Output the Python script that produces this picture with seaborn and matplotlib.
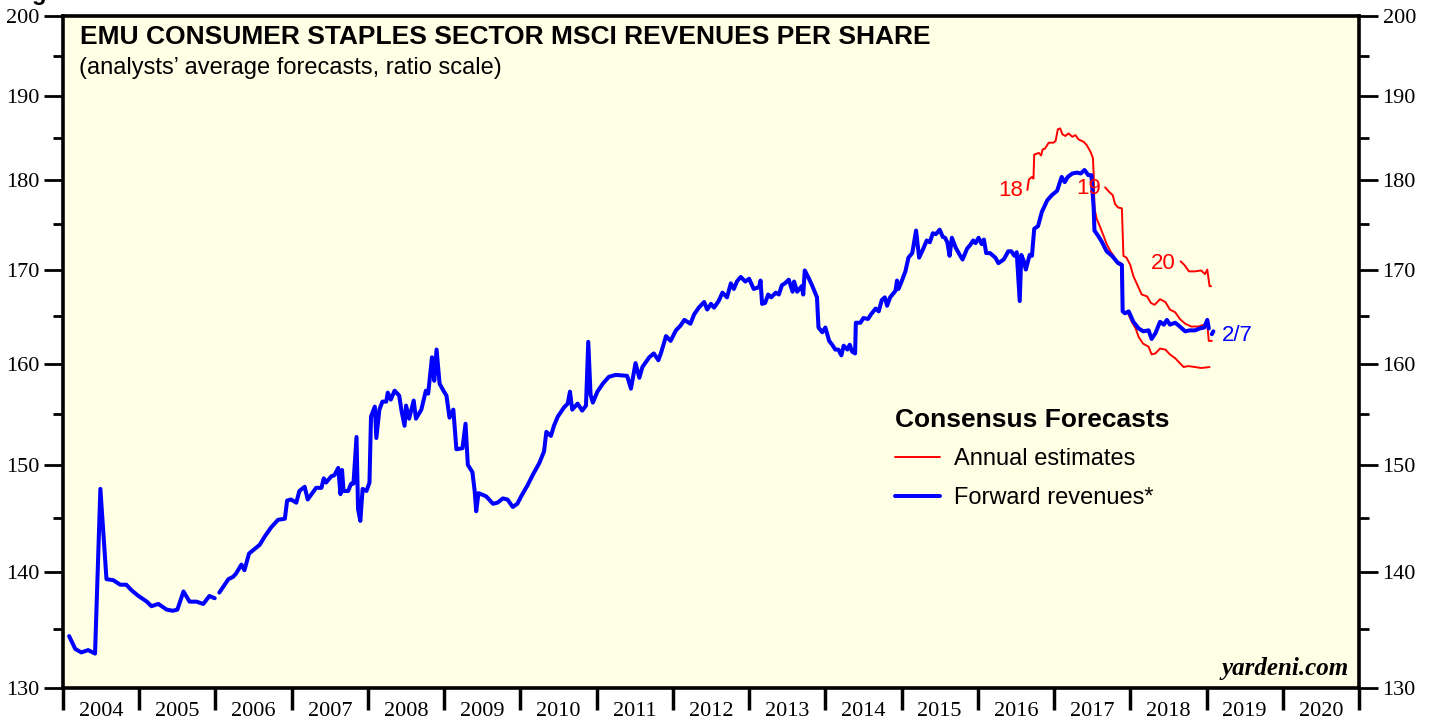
import numpy as np
import pandas as pd
import seaborn as sns
import matplotlib.pyplot as plt
from matplotlib.lines import Line2D
from matplotlib.ticker import FixedLocator, NullFormatter


sns.set_theme(style="white")
plt.rcParams['font.family'] = ['Liberation Sans', 'DejaVu Sans']
plt.rcParams['text.color'] = 'black'
plt.rcParams['xtick.color'] = 'black'
plt.rcParams['ytick.color'] = 'black'

# forward revenues per share (weekly-ish readings), NaN = break in the line
fwd_year = [2004.08, 2004.16, 2004.24, 2004.33, 2004.42, 2004.49, 2004.57, 2004.66, 2004.75, 2004.83,
            2004.90, 2004.99, 2005.10, 2005.16, 2005.25, 2005.36, 2005.44, 2005.50, 2005.58, 2005.66,
            2005.75, 2005.84, 2005.92, 2005.99, np.nan,
            2006.05, 2006.10, 2006.17, 2006.23, 2006.27, 2006.34, 2006.38, 2006.44, 2006.51, 2006.58,
            2006.65, 2006.73, 2006.82, 2006.91, 2006.94, 2006.99, 2007.06, 2007.10, 2007.17, 2007.21,
            2007.26, 2007.32, 2007.39, 2007.42, 2007.45, 2007.52, 2007.56, 2007.61, 2007.64, 2007.66,
            2007.68, 2007.74, 2007.78, 2007.81, 2007.85, 2007.87, 2007.90, 2007.93, 2007.98, 2008.02,
            2008.04, 2008.09, 2008.11, 2008.15, 2008.19, 2008.24, 2008.26, 2008.30, 2008.35, 2008.41,
            2008.44, 2008.48, 2008.50, 2008.54, 2008.60, 2008.63, 2008.70, 2008.76, 2008.79, 2008.84,
            2008.87, 2008.90, 2008.94, 2008.99, 2009.03, 2009.07, 2009.12, 2009.16, 2009.24, 2009.28,
            2009.31, 2009.37, 2009.40, 2009.42, 2009.45, 2009.55, 2009.64, 2009.70, 2009.77, 2009.83,
            2009.90, 2009.96, 2010.01, 2010.09, 2010.16, 2010.25, 2010.31, 2010.34, 2010.40, 2010.44,
            2010.49, 2010.57, 2010.62, 2010.65, 2010.68, 2010.75, 2010.81, 2010.86, 2010.89, 2010.92,
            2010.95, 2011.01, 2011.08, 2011.16, 2011.25, 2011.40, 2011.45, 2011.51, 2011.56, 2011.60,
            2011.69, 2011.75, 2011.81, 2011.85, 2011.91, 2011.97, 2012.04, 2012.10, 2012.15, 2012.23,
            2012.28, 2012.34, 2012.41, 2012.45, 2012.50, 2012.54, 2012.60, 2012.65, 2012.71, 2012.76,
            2012.80, 2012.84, 2012.89, 2012.95, 2013.00, 2013.06, 2013.13, 2013.15, 2013.17, 2013.21,
            2013.25, 2013.29, 2013.35, 2013.39, 2013.43, 2013.47, 2013.52, 2013.57, 2013.59, 2013.63,
            2013.69, 2013.71, 2013.73, 2013.78, 2013.83, 2013.89, 2013.91, 2013.96, 2014.00, 2014.05,
            2014.09, 2014.13, 2014.17, 2014.21, 2014.24, 2014.29, 2014.32, 2014.35, 2014.39, 2014.40,
            2014.46, 2014.50, 2014.56, 2014.60, 2014.66, 2014.70, 2014.74, 2014.78, 2014.81, 2014.85,
            2014.88, 2014.92, 2014.94, 2014.96, 2015.00, 2015.05, 2015.09, 2015.14, 2015.19, 2015.23,
            2015.28, 2015.33, 2015.37, 2015.41, 2015.45, 2015.50, 2015.54, 2015.57, 2015.60, 2015.63,
            2015.66, 2015.71, 2015.77, 2015.80, 2015.86, 2015.90, 2015.94, 2015.97, 2016.01, 2016.05,
            2016.08, 2016.11, 2016.16, 2016.23, 2016.27, 2016.34, 2016.40, 2016.44, 2016.48, 2016.51,
            2016.55, 2016.57, 2016.60, 2016.63, 2016.68, 2016.71, 2016.74, 2016.79, 2016.84, 2016.91,
            2016.97, 2017.04, 2017.10, 2017.14, 2017.18, 2017.24, 2017.30, 2017.35, 2017.40, 2017.45,
            2017.49, 2017.52, 2017.53, 2017.58, 2017.63, 2017.69, 2017.76, 2017.80, 2017.84, 2017.89,
            2017.90, 2017.93, 2017.98, 2018.04, 2018.11, 2018.17, 2018.24, 2018.28, 2018.33, 2018.39,
            2018.44, 2018.48, 2018.52, 2018.59, 2018.65, 2018.72, 2018.78, 2018.85, 2018.91, 2018.97,
            2019.01, 2019.03, np.nan, 2019.07, 2019.09]
fwd_value = [134.4, 133.3, 133.0, 133.2, 132.9, 147.7, 139.4, 139.3, 138.9, 138.9,
             138.4, 137.9, 137.4, 137.0, 137.2, 136.7, 136.6, 136.7, 138.3, 137.4,
             137.4, 137.2, 137.9, 137.7, np.nan,
             138.2, 138.7, 139.4, 139.6, 139.9, 140.7, 140.2, 141.7, 142.1, 142.5,
             143.3, 144.1, 144.8, 144.9, 146.6, 146.7, 146.4, 147.5, 147.9, 146.7,
             147.2, 147.8, 147.8, 148.7, 148.3, 148.9, 149.0, 149.7, 147.2, 149.5,
             147.5, 147.5, 148.2, 148.2, 152.7, 145.8, 144.7, 147.7, 147.5, 148.3,
             154.7, 155.7, 152.6, 155.4, 156.2, 156.2, 157.1, 156.4, 157.3, 156.8,
             155.3, 153.8, 155.8, 154.5, 156.3, 154.5, 155.4, 157.3, 157.0, 160.7,
             158.3, 161.5, 158.0, 157.3, 156.8, 154.6, 155.4, 151.5, 151.6, 154.0,
             150.0, 149.3, 147.5, 145.6, 147.3, 147.0, 146.3, 146.4, 146.8, 146.7,
             146.0, 146.3, 147.0, 148.0, 149.0, 150.2, 151.3, 153.2, 152.8, 153.8,
             154.7, 155.6, 156.0, 157.2, 155.4, 156.0, 155.3, 155.8, 162.3, 156.9,
             156.1, 157.2, 158.0, 158.7, 158.9, 158.8, 157.5, 160.1, 158.6, 159.7,
             160.7, 161.1, 160.4, 161.3, 162.9, 162.4, 163.5, 164.0, 164.6, 164.2,
             165.2, 165.9, 166.5, 165.7, 166.3, 165.9, 166.6, 167.5, 167.0, 168.5,
             167.9, 168.7, 169.2, 168.7, 169.0, 167.9, 168.1, 168.8, 166.3, 166.4,
             167.3, 167.0, 167.5, 167.3, 168.3, 168.5, 168.9, 167.6, 168.7, 167.6,
             168.2, 167.3, 169.9, 169.1, 168.2, 167.0, 163.8, 163.3, 163.8, 162.4,
             162.0, 161.5, 161.5, 160.9, 161.9, 161.5, 162.0, 161.3, 161.1, 164.3,
             164.3, 164.8, 164.7, 165.2, 165.8, 165.5, 166.7, 167.0, 166.1, 167.0,
             167.3, 167.7, 168.8, 167.9, 168.7, 169.8, 171.3, 171.8, 174.3, 171.3,
             172.2, 173.2, 173.0, 174.0, 173.9, 174.4, 173.6, 173.5, 173.0, 171.5,
             173.5, 172.4, 171.5, 171.1, 172.3, 172.7, 173.2, 172.9, 173.5, 172.8,
             173.3, 171.8, 171.8, 171.3, 170.7, 171.1, 172.0, 172.0, 171.5, 171.9,
             166.6, 171.6, 171.0, 170.0, 171.6, 171.5, 174.5, 174.8, 176.4, 177.7,
             178.3, 178.8, 180.4, 179.8, 180.4, 180.8, 180.9, 180.8, 181.2, 180.6,
             180.6, 176.8, 174.3, 173.7, 173.0, 172.0, 171.5, 171.1, 170.7, 170.5,
             165.5, 165.3, 165.5, 164.4, 163.7, 163.4, 163.5, 162.6, 163.2, 164.4,
             164.1, 164.6, 164.1, 164.3, 163.9, 163.4, 163.5, 163.5, 163.7, 163.8,
             164.6, 163.7, np.nan, 163.1, 163.4]

# annual estimates
est18_year = [2016.65, 2016.67, 2016.71, 2016.73, 2016.74, 2016.80, 2016.83, 2016.85, 2016.88, 2016.93,
              2016.99, 2017.02, 2017.05, 2017.08, 2017.11, 2017.15, 2017.19, 2017.24, 2017.28, 2017.32,
              2017.39, 2017.43, 2017.48, 2017.51, 2017.52, 2017.53, 2017.56, 2017.60, 2017.65, 2017.69,
              2017.74, 2017.78, 2017.82, 2017.88, 2017.90, 2017.97, 2018.02, 2018.07, 2018.11, 2018.17,
              2018.24, 2018.28, 2018.33, 2018.39, 2018.46, 2018.52, 2018.59, 2018.65, 2018.70, 2018.76,
              2018.85, 2018.93, 2019.04]
est18_value = [178.9, 180.1, 180.4, 180.2, 183.0, 183.2, 182.9, 183.6, 183.7, 184.4,
               184.4, 184.6, 186.0, 186.1, 185.4, 185.2, 185.5, 185.1, 185.3, 184.8,
               184.5, 184.1, 183.3, 182.6, 180.7, 176.8, 175.6, 174.8, 173.7, 172.8,
               172.0, 171.5, 170.9, 170.7, 165.5, 165.3, 164.4, 163.7, 162.8, 162.1,
               161.8, 161.0, 161.1, 161.6, 161.5, 161.0, 160.6, 160.1, 159.7, 159.8,
               159.7, 159.6, 159.7]
est19_year = [2017.67, 2017.72, 2017.77, 2017.80, 2017.84, 2017.89, 2017.91, 2017.95, 2018.00, 2018.04,
              2018.10, 2018.15, 2018.22, 2018.27, 2018.32, 2018.39, 2018.46, 2018.52, 2018.59, 2018.65,
              2018.72, 2018.80, 2018.89, 2018.97, 2019.01, 2019.03, 2019.07]
est19_value = [179.2, 178.7, 178.3, 177.3, 176.9, 176.8, 171.5, 171.3, 170.5, 169.3,
               168.2, 167.3, 167.1, 166.4, 166.2, 166.8, 166.5, 165.7, 165.4, 164.7,
               164.2, 163.9, 163.9, 164.1, 164.1, 162.4, 162.4]
est20_year = [2018.66, 2018.71, 2018.77, 2018.85, 2018.93, 2018.98, 2019.01, 2019.04, 2019.06]
est20_value = [170.9, 170.5, 169.8, 169.8, 169.9, 169.5, 170.0, 168.2, 168.2]

est_labels = ['18', '19', '20']
est_label_pos = [(2016.60, 178.8), (2017.61, 179.1), (2018.60, 170.7)]

years = list(range(2004, 2021))
y_major = [130, 140, 150, 160, 170, 180, 190, 200]
y_minor = [135, 145, 155, 165, 175, 185, 195]

fwd = pd.DataFrame({'year': fwd_year, 'value': fwd_value})
fwd['seg'] = fwd['value'].isna().cumsum()
fwd = fwd.dropna()

est = pd.concat([
    pd.DataFrame({'year': est18_year, 'value': est18_value, 'seg': '18'}),
    pd.DataFrame({'year': est19_year, 'value': est19_value, 'seg': '19'}),
    pd.DataFrame({'year': est20_year, 'value': est20_value, 'seg': '20'}),
])

serif = ['Liberation Serif', 'DejaVu Serif']

fig = plt.figure(figsize=(14.29, 7.19), dpi=100)
ax = fig.add_axes([0.0441, 0.0431, 0.9069, 0.9346])
ax.set_facecolor('#ffffe6')

sns.lineplot(data=est, x='year', y='value', units='seg', estimator=None, sort=False,
             color='#ff0000', lw=1.4, ax=ax, legend=False)
sns.lineplot(data=fwd, x='year', y='value', units='seg', estimator=None, sort=False,
             color='#0000ff', lw=2.9, ax=ax, legend=False)

ax.set_yscale('log')
ax.set_ylim(130, 200)
ax.set_xlim(2004, 2021)
ax.set_xlabel('')
ax.set_ylabel('')

ax.yaxis.set_major_locator(FixedLocator(y_major))
ax.yaxis.set_minor_locator(FixedLocator(y_minor))
ax.set_yticklabels([str(v) for v in y_major])
ax.yaxis.set_minor_formatter(NullFormatter())
ax.tick_params(axis='y', which='both', left=True, right=True, labelleft=True, labelright=True,
               direction='out', width=2, labelsize=16, pad=3)
ax.tick_params(axis='y', which='major', length=14)
ax.tick_params(axis='y', which='minor', length=7)

ax.set_xticks(range(2004, 2022))
ax.set_xticklabels([])
ax.set_xticks([y + 0.5 for y in years], minor=True)
ax.set_xticklabels([str(y) for y in years], minor=True)
ax.tick_params(axis='x', which='major', bottom=True, direction='out', length=16, width=2.5)
ax.tick_params(axis='x', which='minor', bottom=True, length=0, labelsize=16, pad=10)
for lab in ax.get_xticklabels(minor=True):
    lab.set_family(serif)
for t in ax.yaxis.get_major_ticks():
    t.label1.set_family(serif)
    t.label2.set_family(serif)

for sp in ax.spines.values():
    sp.set_linewidth(2.6)
    sp.set_color('black')

ax.text(0.013, 0.987, 'EMU CONSUMER STAPLES SECTOR MSCI REVENUES PER SHARE', transform=ax.transAxes,
        fontsize=19, fontweight='bold', va='top', ha='left')
ax.text(0.012, 0.939, '(analysts\u2019 average forecasts, ratio scale)', transform=ax.transAxes,
        fontsize=17, va='top', ha='left')
ax.text(0.992, 0.012, 'yardeni.com', transform=ax.transAxes, fontsize=18, fontweight='bold',
        fontstyle='italic', family=serif, ha='right', va='bottom')

for lab, (lx, ly) in zip(est_labels, est_label_pos):
    ax.text(lx, ly, lab, color='#ff0000', fontsize=16, ha='right', va='center')
ax.text(2019.2, 163.0, '2/7', color='#0000ff', fontsize=16, ha='left', va='center')

handles = [Line2D([], [], color='#ff0000', lw=1.4), Line2D([], [], color='#0000ff', lw=2.9)]
ax.legend(handles=handles, labels=['Annual estimates', 'Forward revenues*'], title='Consensus Forecasts',
          loc='upper left', bbox_to_anchor=(0.642, 0.417), frameon=False, fontsize=17,
          title_fontproperties={'weight': 'bold', 'size': 19}, alignment='left',
          handlelength=1.9, handletextpad=0.6, labelspacing=0.7, borderpad=0, borderaxespad=0)

fig.text(0.008, 0.9995, 'Figure 1.', fontsize=17, fontweight='bold', va='baseline', ha='left')

fig.savefig('out.png', dpi=100)
